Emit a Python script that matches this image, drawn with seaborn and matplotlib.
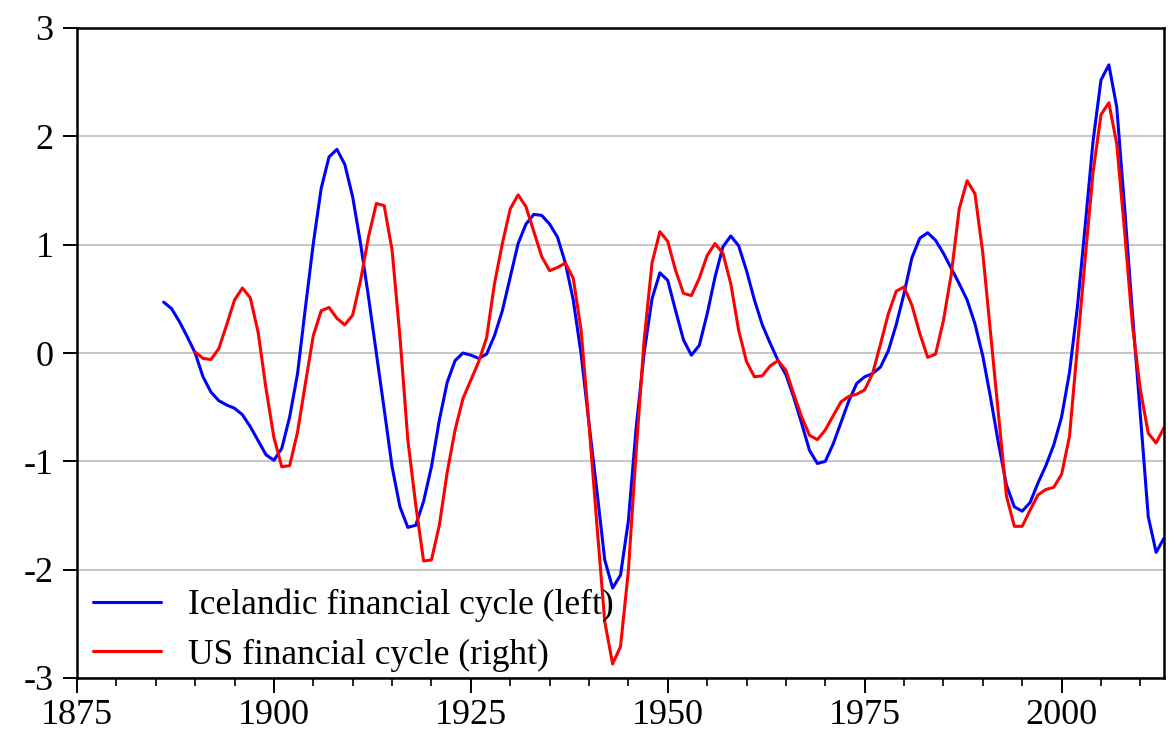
import numpy as np
import pandas as pd
import matplotlib
matplotlib.use("Agg")
import matplotlib.pyplot as plt
from matplotlib.lines import Line2D
from matplotlib.ticker import MultipleLocator
import seaborn as sns

# ---------------- data ----------------
iceland_years = list(range(1886, 2014))
iceland_values = [
    0.47, 0.41, 0.29, 0.15, 0.00, -0.22, -0.36, -0.44, -0.48, -0.51,   # 1886-1895
    -0.57, -0.68, -0.81, -0.94, -0.99, -0.88, -0.59, -0.19, 0.42, 1.01,  # 1896-1905
    1.52, 1.81, 1.88, 1.74, 1.44, 1.01, 0.52, 0.00, -0.52, -1.05,       # 1906-1915
    -1.42, -1.61, -1.59, -1.37, -1.05, -0.62, -0.27, -0.07, 0.00, -0.02, # 1916-1925
    -0.05, -0.01, 0.16, 0.39, 0.70, 1.01, 1.19, 1.28, 1.27, 1.19,       # 1926-1935
    1.07, 0.83, 0.49, -0.01, -0.65, -1.27, -1.91, -2.17, -2.05, -1.55,   # 1936-1945
    -0.68, 0.00, 0.50, 0.74, 0.67, 0.39, 0.12, -0.02, 0.07, 0.36,       # 1946-1955
    0.70, 0.98, 1.08, 0.99, 0.76, 0.49, 0.26, 0.09, -0.07, -0.20,       # 1956-1965
    -0.41, -0.65, -0.90, -1.02, -1.00, -0.84, -0.64, -0.44, -0.28, -0.22, # 1966-1975
    -0.19, -0.13, 0.02, 0.26, 0.55, 0.88, 1.06, 1.11, 1.04, 0.92,       # 1976-1985
    0.78, 0.64, 0.49, 0.27, -0.03, -0.42, -0.84, -1.22, -1.42, -1.46,    # 1986-1995
    -1.38, -1.20, -1.04, -0.85, -0.59, -0.18, 0.42, 1.18, 1.96, 2.52,    # 1996-2005
    2.66, 2.27, 1.34, 0.36, -0.57, -1.51, -1.84, -1.71,                 # 2006-2013
]

us_years = list(range(1890, 2014))
us_values = [
    0.01, -0.05, -0.06, 0.04, 0.26, 0.49, 0.60, 0.51, 0.19, -0.33,      # 1890-1899
    -0.78, -1.05, -1.04, -0.73, -0.28, 0.16, 0.39, 0.42, 0.32, 0.26,     # 1900-1909
    0.35, 0.67, 1.07, 1.38, 1.36, 0.95, 0.15, -0.80, -1.40, -1.92,       # 1910-1919
    -1.91, -1.59, -1.10, -0.71, -0.42, -0.25, -0.08, 0.14, 0.64, 1.01,   # 1920-1929
    1.33, 1.46, 1.35, 1.12, 0.89, 0.76, 0.79, 0.83, 0.69, 0.21,         # 1930-1939
    -0.66, -1.58, -2.48, -2.87, -2.71, -2.01, -0.90, 0.12, 0.83, 1.12,   # 1940-1949
    1.03, 0.76, 0.55, 0.53, 0.69, 0.90, 1.01, 0.92, 0.64, 0.21,         # 1950-1959
    -0.08, -0.22, -0.21, -0.12, -0.07, -0.16, -0.38, -0.59, -0.76, -0.80, # 1960-1969
    -0.71, -0.58, -0.45, -0.40, -0.38, -0.34, -0.19, 0.08, 0.36, 0.57,   # 1970-1979
    0.61, 0.44, 0.18, -0.04, -0.01, 0.30, 0.73, 1.33, 1.59, 1.47,       # 1980-1989
    0.92, 0.17, -0.58, -1.32, -1.60, -1.60, -1.45, -1.31, -1.26, -1.24,  # 1990-1999
    -1.12, -0.77, 0.05, 0.88, 1.67, 2.20, 2.31, 1.93, 1.12, 0.25,       # 2000-2009
    -0.34, -0.74, -0.83, -0.69,                                          # 2010-2013
]

series_labels = ["Icelandic financial cycle (left)", "US financial cycle (right)"]
series_colors = ["#0000FF", "#FF0000"]
x_major_ticks = [1875, 1900, 1925, 1950, 1975, 2000]
y_ticks = [-3, -2, -1, 0, 1, 2, 3]

df = pd.concat([
    pd.DataFrame({"year": iceland_years, "value": iceland_values, "series": series_labels[0]}),
    pd.DataFrame({"year": us_years, "value": us_values, "series": series_labels[1]}),
], ignore_index=True)

# ---------------- style ----------------
sns.set_style("white")
plt.rcParams["font.family"] = ["Liberation Serif", "DejaVu Serif"]
plt.rcParams["axes.unicode_minus"] = False
plt.rcParams["text.color"] = "black"

W, H = 1173, 733
fig = plt.figure(figsize=(W / 100, H / 100), dpi=100)
ax = fig.add_axes([77 / W, 1 - 678 / H, (1164 - 77) / W, (678 - 28) / H])

LW = 2.2
sns.lineplot(data=df, x="year", y="value", hue="series",
             palette=dict(zip(series_labels, series_colors)),
             linewidth=LW, ax=ax, legend=False, estimator=None)

ax.set_xlim(1875, 2013)
ax.set_ylim(-3, 3)
ax.set_xlabel("")
ax.set_ylabel("")

ax.set_xticks(x_major_ticks)
ax.set_xticklabels([str(t) for t in x_major_ticks])
ax.xaxis.set_minor_locator(MultipleLocator(5))
ax.set_yticks(y_ticks)
ax.set_yticklabels([str(t) for t in y_ticks])

ax.yaxis.grid(True, color="#c8c8c8", linewidth=1.5)
ax.xaxis.grid(False)
ax.set_axisbelow(True)

for sp in ax.spines.values():
    sp.set_visible(True)
    sp.set_color("black")
    sp.set_linewidth(1.8)

ax.tick_params(axis="x", which="major", direction="out", length=11, width=1.4,
               labelsize=26, pad=4, colors="black", bottom=True, top=False)
ax.tick_params(axis="x", which="minor", direction="out", length=6, width=1.4,
               bottom=True, top=False)
ax.tick_params(axis="y", which="major", direction="out", length=10, width=1.4,
               labelsize=26, pad=7, colors="black", left=True, right=False)

handles = [Line2D([0], [0], color=c, linewidth=LW) for c in series_colors]
leg = ax.legend(handles, series_labels, loc="lower left",
                bbox_to_anchor=(0.015, 0.01), frameon=False, fontsize=25.5,
                handlelength=1.9, handletextpad=0.76, labelspacing=0.45,
                borderaxespad=0, borderpad=0)
for t in leg.get_texts():
    t.set_color("black")

fig.savefig("out.png", dpi=100, facecolor="white")
